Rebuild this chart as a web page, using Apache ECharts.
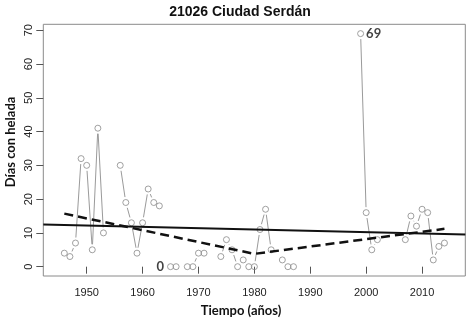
<!DOCTYPE html>
<html>
<head>
<meta charset="utf-8">
<script src="https://cdn.jsdelivr.net/npm/echarts@6/dist/echarts.min.js"></script>
<style>
  html, body { margin: 0; padding: 0; background: #fff; }
  #chart { width: 474px; height: 326px; }
</style>
</head>
<body>
<div id="chart"></div>
<script>
// Annual frost days at station 21026 Ciudad Serdán
const years = [1946, 1947, 1948, 1949, 1950, 1951, 1952, 1953, 1956, 1957, 1958, 1959, 1960, 1961, 1962, 1963,
  1965, 1966, 1968, 1969, 1970, 1971, 1974, 1975, 1976, 1977, 1978, 1979, 1980, 1981, 1982, 1983,
  1985, 1986, 1987, 1999, 2000, 2001, 2002, 2007, 2008, 2009, 2010, 2011, 2012, 2013, 2014];
const frostDays = [4, 3, 7, 32, 30, 5, 41, 10, 30, 19, 13, 4, 13, 23, 19, 18,
  0, 0, 0, 0, 4, 4, 3, 8, 5, 0, 2, 0, 0, 11, 17, 5,
  2, 0, 0, 69, 16, 5, 8, 8, 15, 12, 17, 16, 2, 6, 7];

// Linear trend (whole period) and segmented fit with break near 1980
const trendYears = [1942.24, 2017.73];
const trendValues = [12.5, 9.5];
const segmentYears = [1946, 1980, 2014];
const segmentValues = [15.7, 3.8, 11.2];

// Axis ranges and tick labels
const xRange = [1942.24, 2017.73];
const yRange = [-2.76, 71.76];
const xTicks = [1950, 1960, 1970, 1980, 1990, 2000, 2010];
const yTicks = [0, 10, 20, 30, 40, 50, 60, 70];

const points = years.map((y, i) => [y, frostDays[i]]);
// consecutive years are joined by a line that stops short of each circle
const links = [];
for (let i = 0; i < years.length - 1; i++) {
  if (years[i + 1] - years[i] === 1) {
    links.push([years[i], frostDays[i], years[i + 1], frostDays[i + 1]]);
  }
}
const maxVal = Math.max(...frostDays);
const minVal = Math.min(...frostDays);
const maxIdx = frostDays.indexOf(maxVal);
const minIdx = frostDays.indexOf(minVal);

const chart = echarts.init(document.getElementById('chart'), null, { renderer: 'canvas' });
const tickColor = '#555';
const labelFont = { fontFamily: 'Liberation Sans', fontSize: 11, color: '#222' };
const plain = v => String(Math.round(v));

chart.setOption({
  animation: false,
  backgroundColor: '#fff',
  grid: {
    left: 43.3, top: 24.3, right: 8.7, bottom: 50,
    show: true, borderColor: '#8a8a8a', borderWidth: 1, backgroundColor: 'transparent'
  },
  xAxis: {
    type: 'value', min: xRange[0], max: xRange[1],
    axisLine: { show: false },
    splitLine: { show: false },
    axisTick: { show: true, inside: false, length: 7, customValues: xTicks, lineStyle: { color: tickColor } },
    axisLabel: Object.assign({ customValues: xTicks, margin: 11, formatter: plain }, labelFont)
  },
  yAxis: {
    type: 'value', min: yRange[0], max: yRange[1],
    axisLine: { show: false },
    splitLine: { show: false },
    axisTick: { show: true, inside: false, length: 7, customValues: yTicks, lineStyle: { color: tickColor } },
    axisLabel: Object.assign({ customValues: yTicks, rotate: 90, margin: 9, formatter: plain }, labelFont)
  },
  graphic: [
    { type: 'text', style: {
        text: '21026 Ciudad Serdán', x: 240, y: 12, textAlign: 'center', textVerticalAlign: 'middle',
        font: 'bold 14px "Liberation Sans"', fill: '#111' } },
    { type: 'text', style: {
        text: 'Tiempo (años)', x: 241, y: 311, textAlign: 'center', textVerticalAlign: 'middle',
        font: 'bold 13px Lato', fill: '#111' } },
    { type: 'text', x: 11, y: 142, rotation: Math.PI / 2, style: {
        text: 'Días con helada', x: 0, y: 0, textAlign: 'center', textVerticalAlign: 'middle',
        font: 'bold 13px Lato', fill: '#111' } }
  ],
  series: [
    {
      type: 'custom',
      data: links,
      encode: { x: [0, 2], y: [1, 3] },
      clip: true,
      z: 1,
      renderItem: function (params, api) {
        const a = api.coord([api.value(0), api.value(1)]);
        const b = api.coord([api.value(2), api.value(3)]);
        const dx = b[0] - a[0], dy = b[1] - a[1];
        const len = Math.hypot(dx, dy);
        const gap = 5.5;
        if (len <= 2 * gap) return { type: 'group', children: [] };
        const ux = dx / len, uy = dy / len;
        return {
          type: 'line',
          shape: { x1: a[0] + ux * gap, y1: a[1] + uy * gap, x2: b[0] - ux * gap, y2: b[1] - uy * gap },
          style: { stroke: '#9a9a9a', lineWidth: 1 }
        };
      }
    },
    {
      type: 'scatter',
      data: points,
      symbol: 'circle',
      symbolSize: 6,
      z: 2,
      itemStyle: { color: 'rgba(255,255,255,0)', borderColor: '#8a8a8a', borderWidth: 1 },
      label: {
        show: true,
        fontFamily: 'Lato', fontWeight: 'bold', fontSize: 13, color: '#111',
        formatter: function (p) {
          return (p.dataIndex === maxIdx || p.dataIndex === minIdx) ? String(p.value[1]) : '';
        },
        position: 'right', distance: 2
      },
      labelLayout: function (params) {
        if (params.dataIndex === minIdx) {
          return { x: params.rect.x - 3, y: params.rect.y + params.rect.height / 2, align: 'right', verticalAlign: 'middle' };
        }
        return {};
      }
    },
    {
      type: 'line',
      data: trendYears.map((y, i) => [y, trendValues[i]]),
      symbol: 'none',
      z: 3,
      lineStyle: { color: '#111', width: 2 }
    },
    {
      type: 'line',
      data: segmentYears.map((y, i) => [y, segmentValues[i]]),
      symbol: 'none',
      z: 3,
      lineStyle: { color: '#111', width: 2.5, type: [9, 5] }
    }
  ]
});
</script>
</body>
</html>
